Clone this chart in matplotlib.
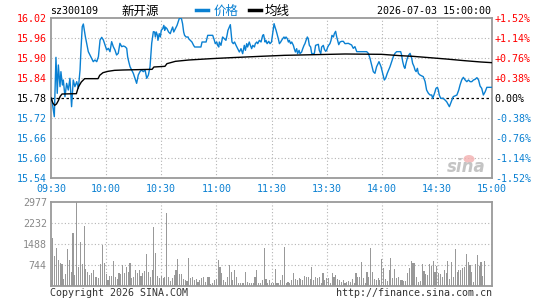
import matplotlib
matplotlib.use("Agg")
import matplotlib.pyplot as plt
from matplotlib.patches import Ellipse
import numpy as np

plt.rcParams['font.family'] = ['DejaVu Sans Mono', 'Noto Sans CJK SC']

# ---- data ----
base = 15.78
price_ticks = [16.02, 15.96, 15.90, 15.84, 15.78, 15.72, 15.66, 15.60, 15.54]
time_ticks = [0, 30, 60, 90, 120, 150, 180, 210, 240]
time_labels = ["09:30", "10:00", "10:30", "11:00", "11:30", "13:30", "14:00", "14:30", "15:00"]
vol_ticks = [744, 1488, 2232, 2977]

# price line: minute index (0 = 09:30, 240 = 15:00) and price
price_m = [0, 0.4, 1.1, 1.8, 2.7, 3.4, 4.0, 4.9, 5.4, 6.2, 6.7, 7.6, 8.5, 9.4, 10.3, 11.2, 12.1, 13.0, 14.0, 14.9,
           15.8, 16.3, 17.0, 17.6, 18.1, 18.7, 19.4, 20.3, 21.2, 22.1, 23.0, 23.9, 24.9, 25.8, 26.7, 27.6, 28.5, 29.4,
           30.3, 31.2, 32.1, 33.0, 33.9, 34.8, 35.7, 36.6, 37.5, 38.5, 39.4, 40.3, 41.2, 41.7, 42.3, 43.0, 43.9, 44.8,
           45.7, 46.6, 47.5, 48.4, 49.3, 50.2, 51.2, 52.1, 53.0, 53.9, 54.8, 55.7, 56.4, 56.8, 57.3, 57.9, 58.2, 58.9,
           59.5, 60.0, 60.8, 61.4, 61.9, 62.2, 63.1, 64.0, 64.9, 65.5, 66.2, 66.8, 67.7, 68.6, 69.5, 69.9, 71.0, 71.6,
           72.2, 72.7, 73.5, 74.6, 74.9, 75.8, 76.7, 77.6, 78.2, 81.6, 82.2, 84.4, 85.3, 88.0, 88.9, 89.4, 90.2, 90.7,
           91.3, 91.6, 92.5, 93.4, 94.3, 95.2, 95.8, 96.3, 97.1, 97.6, 98.0, 98.5, 99.2, 99.9, 100.7, 101.6, 102.5,
           103.4, 104.3, 105.2, 105.8, 106.5, 107.0, 107.9, 108.5, 109.2, 109.8, 110.7, 111.2, 112.0, 112.5, 113.4,
           114.3, 115.2, 115.7, 116.5, 117.0, 117.6, 118.5, 119.2, 120.0, 121.4, 121.9, 122.5, 123.2, 123.7, 124.3,
           125.0, 125.5, 126.1, 126.8, 127.3, 127.9, 128.6, 129.2, 129.7, 130.4, 131.0, 131.9, 132.4, 133.0, 133.7,
           134.2, 135.0, 135.5, 136.4, 137.0, 137.7, 138.2, 138.8, 139.5, 140.0, 140.6, 141.3, 141.9, 143.3, 144.0,
           145.5, 146.0, 146.8, 147.3, 148.2, 148.8, 149.5, 150.0, 150.6, 151.1, 151.8, 152.4, 152.9, 153.7, 154.2,
           154.9, 155.5, 156.0, 156.6, 157.3, 158.2, 159.1, 160.0, 161.8, 163.6, 164.5, 165.4, 166.4, 171.8, 172.7,
           173.6, 174.5, 175.4, 176.3, 177.2, 178.5, 179.6, 180.5, 181.4, 182.1, 183.0, 184.5, 185.4, 186.3, 187.2,
           188.1, 190.3, 190.8, 191.4, 192.1, 192.6, 193.2, 193.9, 194.7, 195.4, 196.3, 196.8, 197.6, 198.1, 198.7,
           199.4, 199.9, 200.8, 202.6, 203.6, 204.4, 205.4, 206.3, 207.2, 207.7, 208.4, 209.0, 209.5, 210.3, 210.8,
           211.3, 212.1, 213.5, 215.3, 216.8, 217.5, 218.9, 220.9, 221.9, 222.6, 223.5, 224.4, 225.4, 226.3, 227.2,
           228.1, 229.0, 229.9, 230.8, 231.8, 232.7, 233.5, 234.4, 235.3, 236.3, 237.2, 240.0]
price_v = [15.780, 15.779, 15.750, 15.724, 15.902, 15.794, 15.879, 15.814, 15.859, 15.819, 15.834, 15.784, 15.824,
           15.804, 15.839, 15.754, 15.834, 15.814, 15.829, 15.809, 15.864, 15.924, 15.994, 16.002, 15.984, 15.964,
           15.944, 15.919, 15.909, 15.899, 15.889, 15.894, 15.889, 15.904, 15.954, 15.962, 15.954, 15.939, 15.924,
           15.929, 15.919, 15.949, 15.934, 15.924, 15.909, 15.914, 15.944, 15.934, 15.936, 15.934, 15.929, 15.904,
           15.889, 15.874, 15.864, 15.854, 15.839, 15.824, 15.849, 15.859, 15.864, 15.859, 15.864, 15.839, 15.849,
           15.874, 15.944, 15.979, 15.978, 15.963, 15.978, 15.968, 15.953, 15.973, 15.963, 15.983, 15.988, 15.998,
           15.983, 15.993, 15.988, 15.978, 15.973, 15.983, 15.993, 15.978, 15.988, 15.998, 16.013, 16.020, 16.018,
           16.003, 15.978, 15.968, 15.963, 15.963, 15.958, 15.953, 15.948, 15.938, 15.933, 15.933, 15.948, 15.948,
           15.968, 15.968, 15.953, 15.943, 15.948, 15.938, 15.933, 15.948, 15.938, 15.963, 15.958, 15.953, 15.968,
           15.983, 15.993, 16.000, 15.978, 15.948, 15.943, 15.948, 15.938, 15.928, 15.918, 15.928, 15.913, 15.938,
           15.923, 15.943, 15.933, 15.948, 15.938, 15.928, 15.938, 15.933, 15.943, 15.948, 15.943, 15.953, 15.948,
           15.968, 15.970, 15.948, 15.953, 15.943, 15.950, 15.943, 15.948, 16.003, 15.993, 15.983, 15.968, 15.958,
           15.943, 15.948, 15.953, 15.958, 15.963, 15.958, 15.963, 15.958, 15.948, 15.953, 15.943, 15.948, 15.938,
           15.928, 15.918, 15.928, 15.913, 15.923, 15.913, 15.918, 15.928, 15.938, 15.943, 15.953, 15.963, 15.958,
           15.938, 15.933, 15.913, 15.913, 15.938, 15.941, 15.923, 15.913, 15.933, 15.938, 15.926, 15.920, 15.923,
           15.933, 15.938, 15.943, 15.953, 15.968, 15.963, 15.973, 15.980, 15.963, 15.953, 15.940, 15.948, 15.950,
           15.950, 15.943, 15.944, 15.939, 15.929, 15.934, 15.919, 15.919, 15.914, 15.899, 15.879, 15.859, 15.854,
           15.874, 15.889, 15.874, 15.854, 15.834, 15.839, 15.854, 15.874, 15.889, 15.904, 15.914, 15.919, 15.919,
           15.909, 15.889, 15.874, 15.869, 15.884, 15.899, 15.909, 15.914, 15.899, 15.884, 15.874, 15.864, 15.859,
           15.869, 15.854, 15.849, 15.844, 15.829, 15.804, 15.794, 15.789, 15.789, 15.779, 15.789, 15.799, 15.809,
           15.812, 15.804, 15.789, 15.779, 15.779, 15.769, 15.754, 15.764, 15.784, 15.789, 15.804, 15.819, 15.834,
           15.842, 15.834, 15.829, 15.834, 15.829, 15.829, 15.834, 15.836, 15.841, 15.834, 15.816, 15.809, 15.789,
           15.799, 15.812, 15.812]

# average price line
avg_m = [0, 1, 2, 3, 4, 5, 6, 13.8, 14.9, 16.5, 17.4, 18.3, 25.6, 26.5, 28.3, 31, 34.6, 39.2, 55, 56, 62, 63.1,
         67.7, 75, 87, 98, 114, 127, 160, 180, 190, 197, 206, 215, 225, 234, 240]
avg_v = [15.780, 15.765, 15.758, 15.762, 15.772, 15.785, 15.792, 15.793, 15.813, 15.828, 15.833, 15.838, 15.838,
         15.848, 15.856, 15.860, 15.863, 15.864, 15.866, 15.873, 15.875, 15.883, 15.890, 15.894, 15.898, 15.901,
         15.905, 15.908, 15.912, 15.911, 15.907, 15.905, 15.901, 15.897, 15.892, 15.888, 15.886]

# volume per minute (241 bars)
volume = [212, 1690, 1063, 1358, 921, 827, 780, 248, 425, 1299,
          921, 508, 1890, 390, 2977, 661, 1548, 780, 2126, 591,
          508, 390, 450, 567, 307, 307, 272, 780, 1453, 803,
          425, 212, 354, 354, 898, 307, 236, 450, 425, 744,
          450, 661, 508, 827, 272, 307, 567, 472, 567, 354,
          472, 543, 1134, 508, 307, 567, 2079, 1157, 354, 272,
          354, 272, 307, 2599, 307, 188, 272, 390, 567, 945,
          425, 425, 236, 212, 188, 980, 272, 307, 212, 236,
          153,
          213, 272, 307, 154, 307, 307, 71, 118, 213,
          236, 921, 685, 449, 213, 154, 307, 744, 508, 213,
          567, 307, 94, 118, 118, 118, 508, 154, 94, 94,
          118, 307, 567, 118, 94, 213, 1335, 236, 94, 213,
          118, 94, 591, 94, 94, 213, 390, 1370, 118, 154,
          94, 213, 472, 236, 213, 272, 236, 213, 354, 331,
          307, 236, 661, 213, 307, 272, 307, 118, 472, 213,
          272, 272, 94, 449, 307, 390, 236, 213, 154, 213,
          118, 154, 189, 154, 236, 94, 472, 331, 307, 862,
          272, 94, 508, 307, 1335, 508, 236, 213, 272, 213,
          945, 626, 236, 189, 567, 980, 272, 587, 272, 307,
          213, 213, 177, 189, 449, 626, 874, 827, 803, 307,
          154, 189, 780, 543, 425, 390, 780, 697, 874, 508,
          697, 449, 425, 331, 567, 472, 874, 236, 862, 307,
          1299, 508, 567, 567, 626, 661, 1134, 862, 744, 508,
          154, 780, 1098, 697, 862, 354, 874, 0, 0, 0,
          0]

# ---- styling ----
red = "#ff0000"
blue = "#0a80d2"
gray = "#9a9a9a"
label_gray = "#888888"
fs = 7.2
W, H = 545, 300

fig = plt.figure(figsize=(W / 100, H / 100), dpi=100)
ax = fig.add_axes([51 / W, 122 / H, 441 / W, 160 / H])
axv = fig.add_axes([51 / W, 14 / H, 441 / W, 84 / H])

for a in (ax, axv):
    for s in a.spines.values():
        s.set_color(gray)
        s.set_linewidth(1.3)
    a.set_xlim(0, 240)
    a.tick_params(length=0)
    for t in time_ticks[1:-1]:
        a.axvline(t, color="#b4b4b4", ls=(0, (1, 2)), lw=0.8, zorder=0)

# price panel
ax.set_ylim(15.54, 16.02)
for p in price_ticks[1:-1]:
    if p == base:
        ax.axhline(p, color="black", ls=(0, (2, 2)), lw=0.9, zorder=1)
    else:
        ax.axhline(p, color="#b4b4b4", ls=(0, (1, 2)), lw=0.8, zorder=0)

ax.plot(price_m, price_v, color=blue, lw=1.0, zorder=3)
ax.plot(avg_m, avg_v, color="black", lw=1.0, zorder=4)


def level_color(p):
    if abs(p - base) < 1e-9:
        return "black"
    return red if p > base else blue


ax.set_yticks(price_ticks)
ax.set_yticklabels([f"{p:.2f}" for p in price_ticks], fontsize=fs)
for lab, p in zip(ax.get_yticklabels(), price_ticks):
    lab.set_color(level_color(p))
ax.tick_params(axis="y", pad=3)

ax.set_xticks(time_ticks)
ax.set_xticklabels(time_labels, fontsize=fs, color=blue)
ax.tick_params(axis="x", pad=4)

ax2 = ax.twinx()
ax2.set_ylim(15.54, 16.02)
ax2.set_yticks(price_ticks)
pct_labels = []
for p in price_ticks:
    pct = (p - base) / base * 100
    pct_labels.append(f"{pct:+.2f}%" if abs(pct) > 1e-9 else "0.00%")
ax2.set_yticklabels(pct_labels, fontsize=fs)
for lab, p in zip(ax2.get_yticklabels(), price_ticks):
    lab.set_color(level_color(p))
ax2.tick_params(length=0, pad=2)
for s in ax2.spines.values():
    s.set_visible(False)

# volume panel
axv.set_ylim(0, 2977)
for v in vol_ticks[:-1]:
    axv.axhline(v, color="#b4b4b4", ls=(0, (1, 2)), lw=0.8, zorder=0)
axv.bar(np.arange(len(volume)), volume, width=0.6, color="#999999", zorder=2)
axv.set_yticks(vol_ticks)
axv.set_yticklabels([str(v) for v in vol_ticks], fontsize=fs, color=label_gray)
axv.tick_params(axis="y", pad=3)
axv.set_xticks([])

# header
fig.text(50 / W, 1 - 11 / H, "sz300109", fontsize=fs, va="center", ha="left")
fig.text(121 / W, 1 - 11 / H, "新开源", fontsize=9, va="center", ha="left")
fig.add_artist(plt.Line2D([196 / W, 208 / W], [1 - 10 / H, 1 - 10 / H], color=blue, lw=2.5))
fig.text(214 / W, 1 - 11 / H, "价格", fontsize=9, va="center", ha="left", color=blue)
fig.add_artist(plt.Line2D([249 / W, 261 / W], [1 - 10 / H, 1 - 10 / H], color="black", lw=2.5))
fig.text(265 / W, 1 - 11 / H, "均线", fontsize=9, va="center", ha="left")
fig.text(491 / W, 1 - 11 / H, "2026-07-03 15:00:00", fontsize=fs, va="center", ha="right")

# footer
fig.text(50 / W, 1 - 293 / H, "Copyright 2026 SINA.COM", fontsize=fs, va="center", ha="left", color="#333333")
fig.text(492 / W, 1 - 293 / H, "http://finance.sina.com.cn", fontsize=fs, va="center", ha="right", color="#333333")

# sina watermark
fig.add_artist(Ellipse((469 / W, 1 - 159 / H), 11 / W, 8 / H, facecolor="#f3b0b0", edgecolor="none", alpha=0.8))
fig.text(466 / W, 1 - 167 / H, "sina", fontsize=12, fontweight="bold", style="italic", color="#c4c4c4",
         family="DejaVu Sans", va="center", ha="center")

fig.savefig("out.png", dpi=100)
